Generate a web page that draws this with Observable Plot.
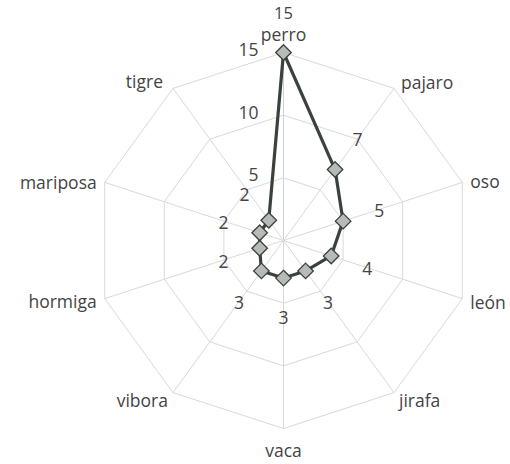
<!DOCTYPE html>
<html>
<head>
<meta charset="utf-8">
<script src="https://cdn.jsdelivr.net/npm/d3@7"></script>
<script src="https://cdn.jsdelivr.net/npm/@observablehq/plot@0.6"></script>
<style>
  html, body { margin: 0; padding: 0; background: #fff; }
  #chart svg { display: block; }
</style>
</head>
<body>
<div id="chart"></div>
<script>
const categories = ["perro", "pajaro", "oso", "león", "jirafa", "vaca", "vibora", "hormiga", "mariposa", "tigre"];
const values = [15, 7, 5, 4, 3, 3, 3, 2, 2, 2];
const ringValues = [5, 10, 15];
const tickLabels = ["5", "10", "15"];

const W = 510, H = 464;
const cx = 283, cy = 240, Rpx = 188, maxV = 15;
const k = Rpx / maxV;
const n = categories.length;
const ang = i => (i / n) * 2 * Math.PI;
const px = (v, i) => v * Math.sin(ang(i));
const py = (v, i) => v * Math.cos(ang(i));

const rings = ringValues.flatMap(rv =>
  d3.range(n + 1).map(j => ({ ring: rv, x: px(rv, j % n), y: py(rv, j % n) }))
);
const spokes = categories.map((c, i) => ({ x1: 0, y1: 0, x2: px(maxV, i), y2: py(maxV, i), c }));

const series = categories.map((c, i) => ({ c, v: values[i], x: px(values[i], i), y: py(values[i], i) }));
const closed = [...series, series[0]];

const off = 38 / k;
// per-label pixel nudges for data labels [dx, dy, fontSize]
const dataNudge = [[0, -1, 16.5], [0, 2, 17.5], [0, 2, 17.5], [0, 2, 17.5], [0, 2, 17.5], [0, 2, 17.5], [0, 2, 17.5], [0, 2, 17.5], [0, 2, 17.5], [-2, 6, 17.5]];
const dataLabels = series.map((d, i) => ({ t: String(d.v), x: px(d.v + off, i), y: py(d.v + off, i), nd: dataNudge[i] }));

// per-label pixel nudges [anchor, dx, dy] for category labels
const labelPlacement = [
  ["middle", 0, -17], ["start", 7, -5], ["start", 8, 0], ["start", 8, 5], ["start", 5, 9],
  ["middle", 0, 23], ["end", -5, 9], ["end", -8, 4], ["end", -8, 1], ["end", -10, -6]
];
const catLabels = categories.map((c, i) => ({ c, x: px(maxV, i), y: py(maxV, i), p: labelPlacement[i] }));

const axisLabels = ringValues.map((rv, i) => ({ t: tickLabels[i], x: 0, y: rv }));

const xDomain = [-cx / k, (W - cx) / k];
const yDomain = [-(H - cy) / k, cy / k];

const font = "'Open Sans', 'Liberation Sans', sans-serif";
const textColor = "#444";
const fs = 17.5;

const plot = Plot.plot({
  width: W,
  height: H,
  margin: 0,
  x: { domain: xDomain, axis: null },
  y: { domain: yDomain, axis: null },
  style: { fontFamily: font, background: "#fff" },
  marks: [
    Plot.link(spokes, { x1: "x1", y1: "y1", x2: "x2", y2: "y2", stroke: (d, i) => i === 0 ? "#c9d3e0" : "#d9d9d9", strokeWidth: 1 }),
    Plot.line(rings, { x: "x", y: "y", z: "ring", stroke: "#d9d9d9", strokeWidth: 1, curve: "linear" }),
    Plot.text(axisLabels, { x: "x", y: "y", text: "t", textAnchor: "end", dx: -25, dy: -2, fontSize: fs, fill: textColor }),
    Plot.line(closed, { x: "x", y: "y", stroke: "#3b423c", strokeWidth: 3.2, strokeLinejoin: "round", curve: "linear" }),
    Plot.dot(series, { x: "x", y: "y", symbol: "diamond2", r: 7, fill: "#b7bbb7", stroke: "#3b423c", strokeWidth: 1.3 }),
    ...dataLabels.map(d =>
      Plot.text([d], { x: "x", y: "y", text: "t", dx: d.nd[0], dy: d.nd[1], fontSize: d.nd[2], fill: textColor })
    ),
    ...catLabels.map(d =>
      Plot.text([d], {
        x: "x", y: "y", text: "c", textAnchor: d.p[0],
        dx: d.p[1], dy: d.p[2], fontSize: fs, fill: textColor
      })
    )
  ]
});

document.getElementById("chart").appendChild(plot);
</script>
</body>
</html>
